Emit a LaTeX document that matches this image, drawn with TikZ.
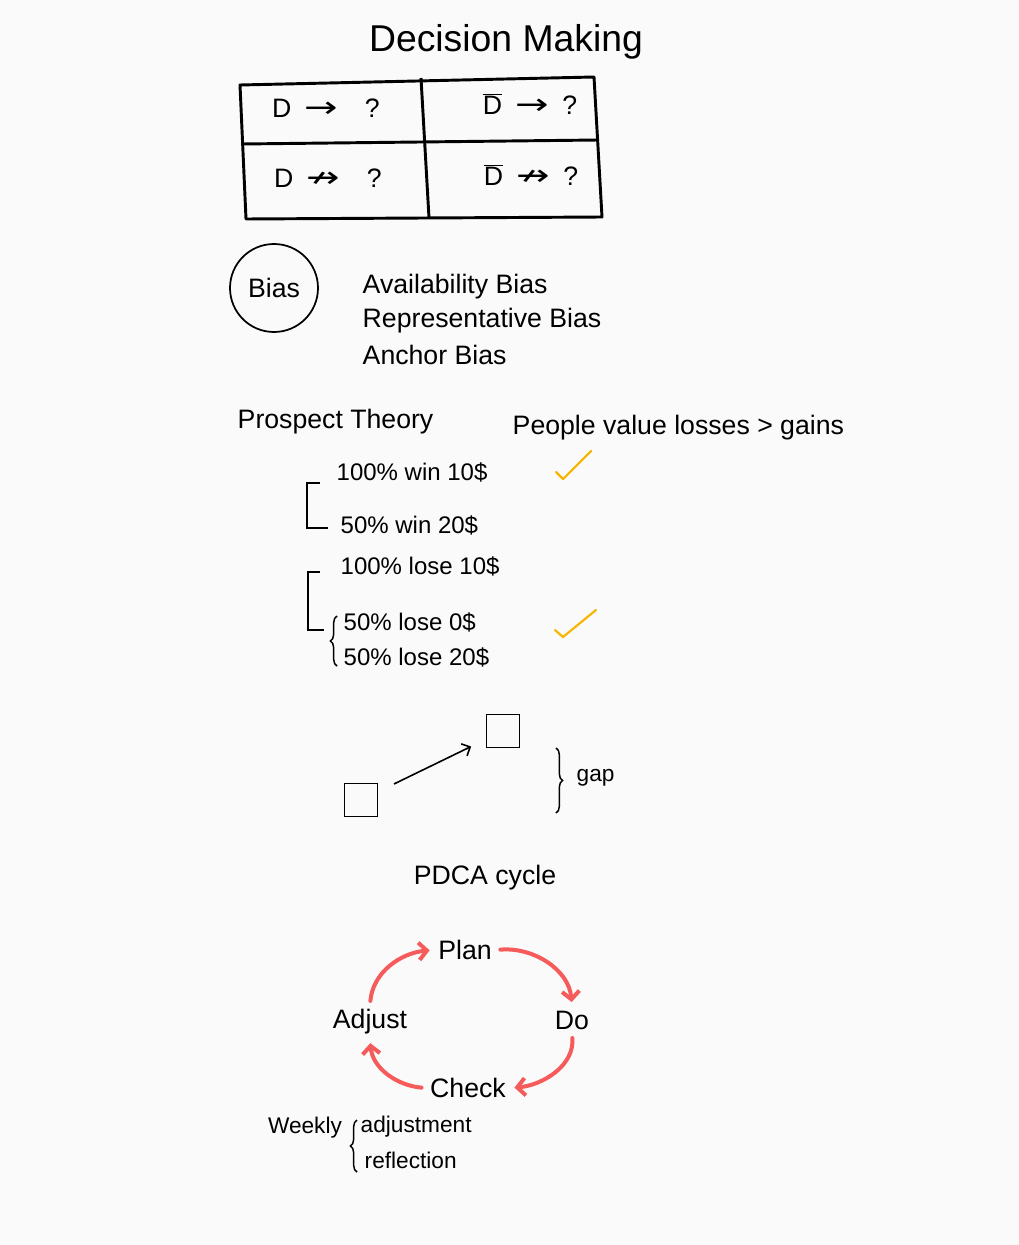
\documentclass[tikz,border=0pt]{standalone}
\usepackage{graphicx}
\usepackage{fontspec}
\setmainfont{Liberation Sans}
\newfontfamily\arrowfont{DejaVu Sans}
\usetikzlibrary{arrows.meta,decorations.pathreplacing}

\definecolor{paper}{HTML}{FAFAFA}
\definecolor{cycred}{HTML}{F65B5B}
\definecolor{tickyellow}{HTML}{F7B500}

\newcommand{\goesto}{\scalebox{1.5}[1.1]{\arrowfont →}}
\newcommand{\notgoesto}{\scalebox{1.5}[1.1]{\arrowfont ↛}}

\begin{document}
\begin{tikzpicture}[x=0.75pt,y=0.75pt,
    hand/.style={font=\fontsize{20}{24}\selectfont},
    handsmall/.style={font=\fontsize{18}{22}\selectfont},
    handnote/.style={font=\fontsize{17}{20}\selectfont},
    tick/.style={draw=tickyellow,line width=1.6pt,line cap=round,line join=round},
    cyc/.style={draw=cycred,line width=3pt,line cap=round,-{Straight Barb[length=6pt,width=13pt]}},
    brc/.style={decorate,decoration={brace,amplitude=5pt},line width=1.1pt}]

% page
\fill[paper] (0,0) rectangle (1019,-1245);

% decision table
\node[font=\fontsize{28}{32}\selectfont] (title) at (506,-42) {Decision Making};
\draw[line width=2.2pt,line join=round] (240,-85) -- (594,-77) -- (602,-217) -- (246,-219) -- cycle;
\draw[line width=2.2pt] (421,-78) -- (429,-218);
\draw[line width=2.2pt] (242,-144) -- (598,-140);
\foreach \x/\y/\name/\txt in {
    326/-108/dgo/D\enspace\goesto\enspace\enspace?,
    530/-104/dbargo/$\overline{\mbox{D}}$\enspace\goesto\enspace?,
    328/-178/dstop/D\enspace\notgoesto\enspace\enspace?,
    531/-175/dbarstop/$\overline{\mbox{D}}$\enspace\notgoesto\enspace?}
  \node[hand] (\name) at (\x,\y) {\txt};

% biases
\node[hand,circle,draw,line width=1.3pt,minimum size=66pt] (bias) at (274,-288) {Bias};
\foreach \y/\name/\txt in {-287/avail/Availability Bias, -321/repr/Representative Bias, -355/anchorbias/Anchor Bias}
  \node[hand,anchor=west] (\name) at (358,\y) {\txt};

% prospect theory
\node[hand,anchor=west] (prospect) at (233,-422) {Prospect Theory};
\node[hand,anchor=west] (people) at (508,-428) {People value losses > gains};
\foreach \x/\y/\name/\txt in {
    332/-472/winsure/100\% win 10\$,
    336/-525/winrisk/50\% win 20\$,
    336/-566/losesure/100\% lose 10\$,
    339/-622/losehalf/50\% lose 0\$,
    339/-657/losemore/50\% lose 20\$}
  \node[handsmall,anchor=west] (\name) at (\x,\y) {\txt};
\draw[line width=1pt] (320,-483) -- (307,-483) -- (307,-528) -- (328,-528);
\draw[line width=1pt] (320,-572) -- (308,-572) -- (308,-630) -- (324,-630);
\draw[brc] (337,-666) -- (337,-616);
\draw[tick] (556,-472) -- (563,-479) -- (591,-451);
\draw[tick] (555,-630) -- (563,-637) -- (596,-610);

% gap
\node[draw,line width=1.2pt,minimum size=25pt] (low) at (361,-800) {};
\node[draw,line width=1.2pt,minimum size=25pt] (high) at (503,-731) {};
\draw[line width=1.2pt,-{Straight Barb[length=5pt,width=10pt]},shorten <=13pt,shorten >=12pt] (low) -- (high);
\draw[brc] (556,-748) -- (556,-813);
\node[handnote,anchor=west] (gap) at (572,-778) {gap};

% PDCA
\node[hand] (pdca) at (485,-878) {PDCA cycle};
\node[hand] (plan) at (465,-950) {Plan};
\node[hand] (do) at (572,-1020) {Do};
\node[hand] (check) at (468,-1088) {Check};
\node[hand] (adjust) at (370,-1022) {Adjust};
\foreach \from/\to/\out/\in in {
    adjust.north/plan.west/85/185,
    plan.east/do.north/5/95,
    do.south/check.east/-85/5,
    check.west/adjust.south/175/-85}
  \draw[cyc,shorten <=3pt,shorten >=3pt] (\from) to[out=\out,in=\in] (\to);

% weekly
\node[handnote] (weekly) at (305,-1128) {Weekly};
\draw[brc] (357,-1172) -- (357,-1120);
\node[handnote,anchor=west] (adjustment) at (356,-1127) {adjustment};
\node[handnote,anchor=west] (reflection) at (360,-1160) {reflection};

\end{tikzpicture}
\end{document}
